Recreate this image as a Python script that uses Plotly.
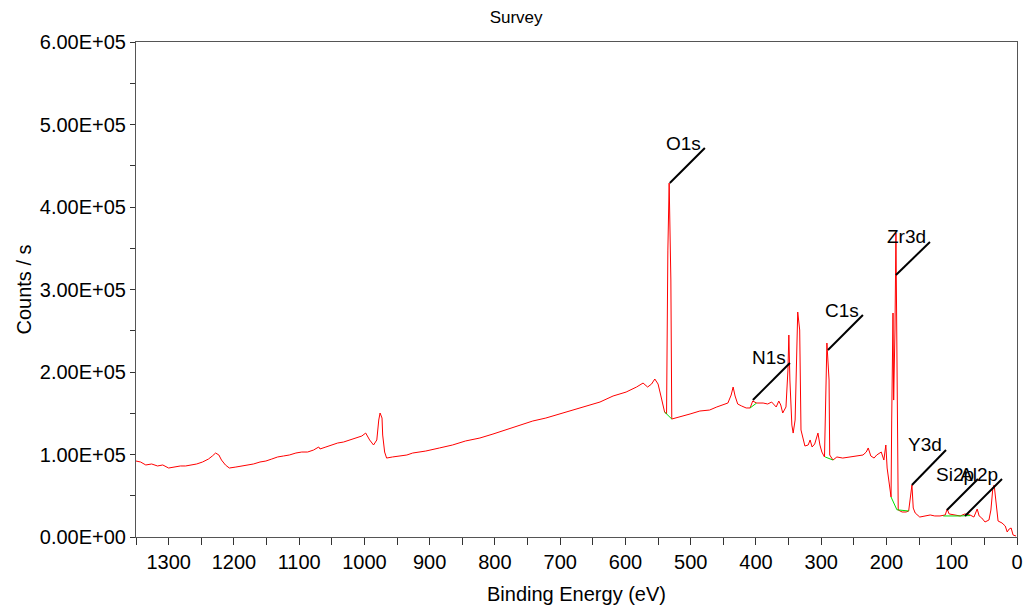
import plotly.graph_objects as go

# ---- spectrum (binding energy in eV, counts/s) ----
be = [1350, 1343, 1335, 1326, 1317, 1309, 1300, 1291, 1282, 1274, 1265, 1257, 1248, 1239, 1233,
      1228, 1223, 1219, 1213, 1207, 1197, 1188, 1179, 1170, 1160, 1151, 1142, 1133, 1124, 1115,
      1105, 1096, 1087, 1078, 1070, 1068, 1059, 1050, 1041, 1032, 1023, 1013, 1004, 998, 992,
      986, 981, 978, 976, 973, 972, 969, 966, 957, 946, 935, 926, 906, 885, 865,
      845, 823, 803, 783, 762, 742, 722, 701, 681, 661, 639, 619, 599, 583, 573,
      566, 560, 555, 550, 546, 543, 540, 537, 535, 533, 530.4, 529, 517, 501, 486,
      471, 460, 449, 443, 438, 435, 432, 428, 422, 415, 409, 405, 399, 389, 382,
      376, 369, 365, 362, 359, 354, 351, 349.6, 348, 345, 343, 340, 337, 336, 333,
      331, 325, 320, 317, 314, 310, 305, 302, 299, 295, 291.3, 288, 287, 282, 276,
      267, 256, 245, 236, 231, 228, 224, 219, 215, 208, 204, 201, 199, 196, 193,
      192, 190, 189, 187, 185.5, 182, 176, 170, 166, 162.5, 161, 159, 156, 149, 141,
      133, 126, 118, 110, 107, 104, 95, 87, 80, 72, 66, 61, 58, 54, 49,
      43, 40, 37, 35, 32, 29, 23, 18, 15, 12, 9, 6, 1.5]
counts = [92100, 90900, 87300, 88500, 86100, 87300, 83600, 84800, 86100, 86100, 87300, 88500, 90900, 94500, 98200,
          101800, 99400, 93300, 87300, 83600, 84800, 86100, 87300, 88500, 90900, 92100, 94500, 97000, 98200, 99400,
          101800, 103000, 103000, 105400, 109100, 106700, 109100, 111500, 113900, 115100, 117600, 120000, 122400, 126000, 117600,
          111500, 117600, 141800, 150300, 144200, 123600, 103000, 95700, 97000, 98200, 99400, 101800, 104200, 107900, 111500,
          116400, 120000, 124800, 129700, 135700, 140600, 144200, 149100, 153900, 158800, 163600, 170900, 175700, 181800, 186600,
          181800, 185400, 191500, 185400, 172100, 160000, 151500, 149100, 347800, 429000, 311500, 143000, 145400, 149100, 152700,
          153900, 157600, 161200, 162400, 172100, 181800, 170900, 161200, 158800, 156400, 156400, 164800, 162400, 162400, 161200,
          163600, 157600, 164800, 160000, 150300, 157600, 202400, 244800, 190300, 135700, 126000, 141800, 263000, 272700, 250900,
          129700, 110300, 111500, 117600, 109100, 112700, 126000, 111500, 103000, 97000, 235100, 190300, 99400, 93300, 97000,
          95700, 97000, 98200, 99400, 103000, 107900, 98200, 95700, 99400, 103000, 93300, 111500, 83600, 63000, 48500,
          141800, 271500, 166000, 250900, 368400, 32700, 30300, 30300, 31500, 57000, 63000, 35100, 29100, 24200, 25500,
          26700, 25500, 25500, 26700, 33900, 27900, 26700, 25500, 27900, 26700, 24200, 33900, 25500, 23000, 18200,
          20600, 32700, 59400, 63000, 38800, 19400, 17000, 13300, 6100, 9700, 10900, 2400, 1200]

# ---- fitted background segments (green) ----
bg_be = [[540, 529], [409, 399], [294, 282], [193, 184, 166], [113, 87], [87, 72]]
bg_counts = [[151500, 143000], [156400, 162400], [97000, 93300], [48500, 33000, 31500],
             [25500, 25500], [25500, 26000]]

# ---- peak labels ----
peak_names = ["O1s", "N1s", "C1s", "Zr3d", "Y3d", "Si2p", "Al2p"]
peak_be = [532.0, 404.7, 289.7, 185.5, 161.0, 107.3, 79.7]
peak_counts = [429000, 166000, 226700, 317600, 63000, 32700, 25500]
label_be = [478.3, 348.0, 236.1, 133.4, 108.8, 59.8, 23.0]
label_counts = [471500, 211000, 269000, 357600, 105500, 70300, 70300]

# ---- axis ticks ----
y_tickvals = [0, 100000, 200000, 300000, 400000, 500000, 600000]
y_ticktext = ["0.00E+00", "1.00E+05", "2.00E+05", "3.00E+05", "4.00E+05", "5.00E+05", "6.00E+05"]

FONT = "Arial, Liberation Sans, sans-serif"

fig = go.Figure()
fig.add_trace(go.Scatter(x=be, y=counts, mode="lines",
                         line=dict(color="#ff0000", width=1), showlegend=False))
for bx, by in zip(bg_be, bg_counts):
    fig.add_trace(go.Scatter(x=bx, y=by, mode="lines",
                             line=dict(color="#00dd00", width=1), showlegend=False))

for name, px, py, lx, ly in zip(peak_names, peak_be, peak_counts, label_be, label_counts):
    fig.add_shape(type="line", x0=px, y0=py, x1=lx, y1=ly, xref="x", yref="y",
                  line=dict(color="black", width=2))
    fig.add_annotation(x=lx, y=ly, text=name, showarrow=False, xanchor="right",
                       yanchor="middle", xshift=-2, yshift=5,
                       font=dict(family=FONT, size=19, color="black"))

fig.update_layout(
    width=1024, height=614,
    margin=dict(l=136, r=7, t=42, b=77, autoexpand=False),
    paper_bgcolor="white", plot_bgcolor="white",
    font=dict(family=FONT, size=19, color="black"),
    title=dict(text="Survey", x=0.504, xref="container", xanchor="center",
               y=0.972, yref="container", yanchor="middle",
               font=dict(family=FONT, size=17, color="black")),
)
fig.update_xaxes(range=[1350, 0], dtick=100, tick0=0, showgrid=False, zeroline=False,
                 showline=True, linecolor="#555555", linewidth=1, mirror=True,
                 ticks="outside", ticklen=7, tickcolor="#333333", automargin=False,
                 minor=dict(dtick=50, tick0=0, ticks="outside", ticklen=7, tickcolor="#333333"),
                 title=dict(text="Binding Energy (eV)", font=dict(family=FONT, size=20), standoff=14),
                 tickfont=dict(family=FONT, size=20))
fig.update_yaxes(range=[0, 600000], tickvals=y_tickvals, ticktext=y_ticktext,
                 showgrid=False, zeroline=False,
                 showline=True, linecolor="#555555", linewidth=1, mirror=True,
                 ticks="outside", ticklen=5, tickcolor="#333333", automargin=False,
                 minor=dict(dtick=50000, tick0=0, ticks="outside", ticklen=5, tickcolor="#333333"),
                 title=dict(text="Counts / s", font=dict(family=FONT, size=20), standoff=2),
                 tickfont=dict(family=FONT, size=20))

# remove the default page margin so the 1024x614 figure fills the window exactly
fig.write_html("out.html", config={"displayModeBar": False},
               post_script="document.body.style.margin='0';document.body.style.overflow='hidden';")
